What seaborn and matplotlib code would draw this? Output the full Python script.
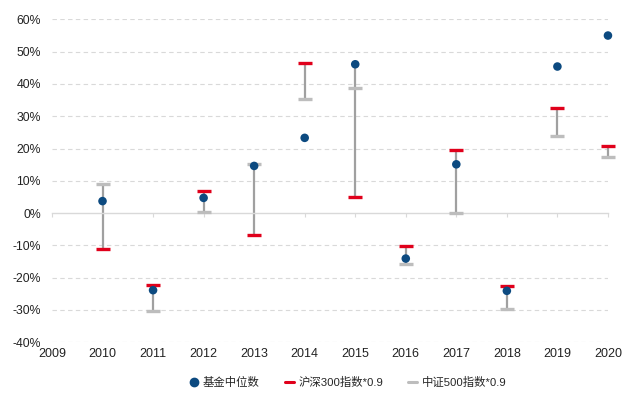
import numpy as np
import pandas as pd
import matplotlib
matplotlib.use("Agg")
import matplotlib.pyplot as plt
import seaborn as sns
from matplotlib.lines import Line2D

years = [2010, 2011, 2012, 2013, 2014, 2015, 2016, 2017, 2018, 2019, 2020]
fund_median = [3.7, -23.9, 4.7, 14.6, 23.3, 46.1, -14.1, 15.1, -24.1, 45.4, 55.0]
hs300_09 = [-11.2, -22.4, 6.8, -6.8, 46.6, 5.1, -10.1, 19.6, -22.7, 32.5, 20.8]
zz500_09 = [9.1, -30.2, 0.3, 15.3, 35.3, 38.8, -15.9, -0.1, -29.8, 23.8, 17.4]
x_ticks = list(range(2009, 2021))
y_ticks = list(range(-40, 61, 10))
labels = ["基金中位数", "沪深300指数*0.9", "中证500指数*0.9"]

BLUE = "#0c4a80"
RED = "#e0001b"
GRAY_DASH = "#bdbdbd"
GRAY_LINE = "#a0a0a0"

sns.set_theme(style="white")
plt.rcParams["font.family"] = ["Liberation Sans", "Noto Sans CJK SC", "DejaVu Sans"]

df = pd.DataFrame({"year": years, "fund": fund_median, "hs": hs300_09, "zz": zz500_09})

fig = plt.figure(figsize=(6.3, 3.96), dpi=100)
ax = fig.add_axes([0.0825, 0.136, 0.8825, 0.815])

# high-low connector lines
hi = np.maximum(df["hs"], df["zz"]).to_numpy()
lo = np.minimum(df["hs"], df["zz"]).to_numpy()
hi[df["year"].to_numpy() == 2015] = df.loc[df["year"] == 2015, "fund"].to_numpy()
ax.vlines(df["year"], lo, hi, color=GRAY_LINE, lw=1.6, zorder=2, clip_on=False)

sns.scatterplot(data=df, x="year", y="zz", marker="_", s=90, linewidth=2.4,
                color=GRAY_DASH, ax=ax, zorder=3, legend=False, clip_on=False)
sns.scatterplot(data=df, x="year", y="hs", marker="_", s=90, linewidth=2.4,
                color=RED, ax=ax, zorder=4, legend=False, clip_on=False)
sns.scatterplot(data=df, x="year", y="fund", marker="o", s=38, edgecolor="none",
                color=BLUE, ax=ax, zorder=5, legend=False, clip_on=False)

ax.set_xlim(2009, 2020)
ax.set_ylim(-40, 60)
ax.set_yticks(y_ticks)
ax.set_yticklabels([f"{v}%" for v in y_ticks])
for v in y_ticks:
    if v != 0:
        ax.axhline(v, color="#d9d9d9", lw=0.8, ls=(0, (4, 3)), zorder=0)

for s in ["top", "right", "left"]:
    ax.spines[s].set_visible(False)
ax.spines["bottom"].set_position(("data", 0))
ax.spines["bottom"].set_color("#d9d9d9")
ax.spines["bottom"].set_linewidth(1.0)
ax.set_xticks(x_ticks)
ax.tick_params(axis="x", which="both", bottom=True, length=3, width=0.8,
               color="#d9d9d9", labelbottom=False)
ax.tick_params(axis="y", length=0, labelsize=8.8, pad=8, labelcolor="#222222")
ax.set_xlabel("")
ax.set_ylabel("")

sec = ax.secondary_xaxis("bottom")
sec.set_xticks(x_ticks)
sec.set_xticklabels([str(y) for y in x_ticks])
sec.tick_params(length=0, labelsize=9, pad=4, labelcolor="#222222")
sec.spines["bottom"].set_visible(False)

handles = [
    Line2D([], [], marker="o", ls="none", color=BLUE, markersize=6),
    Line2D([], [], ls="-", color=RED, lw=2.2),
    Line2D([], [], ls="-", color=GRAY_DASH, lw=2.2),
]
fig.legend(handles, labels, loc="center", bbox_to_anchor=(0.552, 0.033), ncol=3,
           frameon=False, handlelength=0.8, handletextpad=0.4,
           columnspacing=2.2, prop={"family": ["Liberation Sans", "Noto Sans CJK SC"], "size": 8.2})

fig.savefig("out.png", dpi=100)
